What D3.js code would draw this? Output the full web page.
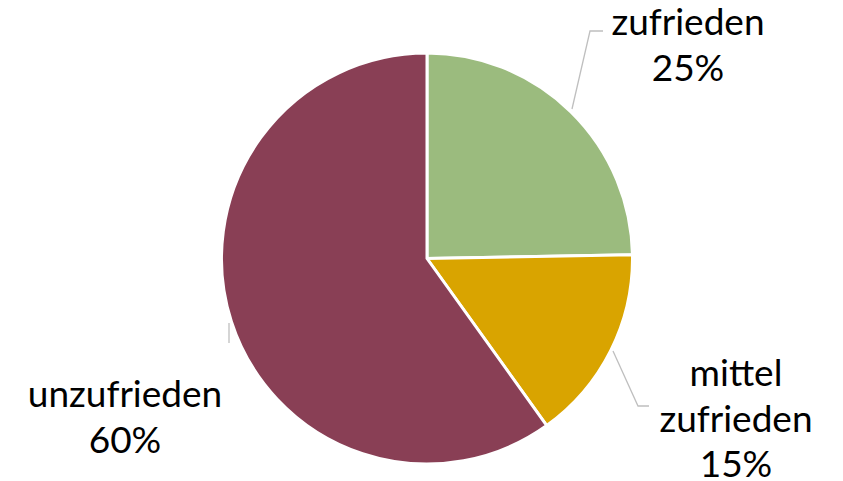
<!DOCTYPE html>
<html>
<head>
<meta charset="utf-8">
<script src="https://cdn.jsdelivr.net/npm/d3@7"></script>
<style>
  body { margin: 0; background: #fff; }
  text { font-family: Lato, "Noto Sans", sans-serif; fill: #000; }
</style>
</head>
<body>
<svg id="drawing_region"></svg>
<script>
// slice data (clockwise from 12 o'clock)
const categories = ["zufrieden", "mittel zufrieden", "unzufrieden"];
const values = [24.7, 15.4, 59.9];
const labelLines = [["zufrieden"], ["mittel", "zufrieden"], ["unzufrieden"]];
const colors = ["#9BBB7E", "#D9A400", "#893F55"];

const width = 843, height = 481;
const cx = 427, cy = 258.5, radius = 205.5;

// label anchor (centre x, first baseline) and leader line per slice
const labelPos = [
    {x: 688, y: 35},
    {x: 736, y: 386},
    {x: 125, y: 407}
];
const leaders = [
    [[572, 109], [590, 31], [603, 31]],
    [[613, 351], [638, 406], [649, 406]],
    [[229, 323], [229, 343]]
];

const svg = d3.select('#drawing_region')
    .attr('width', width)
    .attr('height', height);

const chart = svg.append('g')
    .attr('transform', `translate(${cx}, ${cy})`);

const pie = d3.pie().sort(null).value(d => d);
const arc = d3.arc().innerRadius(0).outerRadius(radius);
const arcs = pie(values);

chart.selectAll('path.slice')
    .data(arcs)
    .enter()
    .append('path')
    .attr('class', 'slice')
    .attr('d', arc)
    .attr('fill', (d, i) => colors[i])
    .attr('stroke', '#fff')
    .attr('stroke-width', 3)
    .attr('stroke-linejoin', 'round');

const line = d3.line();
svg.selectAll('path.leader')
    .data(leaders)
    .enter()
    .append('path')
    .attr('class', 'leader')
    .attr('d', d => line(d))
    .attr('fill', 'none')
    .attr('stroke', '#BFBFBF')
    .attr('stroke-width', 1.3);

const total = d3.sum(values);
const labels = svg.selectAll('text.label')
    .data(arcs)
    .enter()
    .append('text')
    .attr('class', 'label')
    .attr('text-anchor', 'middle')
    .attr('font-size', 37);

labels.each(function(d, i) {
    const t = d3.select(this);
    const lines = labelLines[i].concat([Math.round(d.value / total * 100) + '%']);
    lines.forEach((s, j) => {
        t.append('tspan')
            .attr('x', labelPos[i].x)
            .attr('y', labelPos[i].y + j * 45.5)
            .text(s);
    });
});
</script>
</body>
</html>
